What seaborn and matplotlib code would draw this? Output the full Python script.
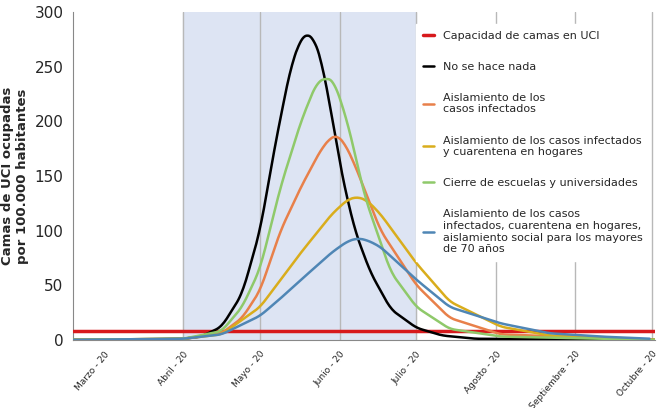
import numpy as np
import pandas as pd
import matplotlib
matplotlib.use("Agg")
import matplotlib.pyplot as plt
import seaborn as sns

# month ticks (days since 1 March 2020)
month_days = [0, 31, 61, 92, 122, 153, 184, 214]
month_labels = ["Marzo - 20", "Abril - 20", "Mayo - 20", "Junio - 20", "Julio - 20",
                "Agosto - 20", "Septiembre - 20", "Octubre - 20"]

capacity = 8

nada_day = [-12, 20, 31, 38, 46, 54, 61, 67, 73, 77, 79, 82, 85, 89, 93, 98, 104, 112, 122, 132, 145, 215]
nada_val = [0, 0.5, 1, 3, 12, 42, 100, 180, 250, 276, 280, 276, 255, 205, 150, 100, 62, 28, 11, 4, 1, 0]

green_day = [-12, 31, 46, 54, 61, 69, 77, 83, 87, 90, 95, 102, 112, 122, 135, 155, 215]
green_val = [0, 1, 8, 30, 65, 140, 200, 235, 240, 236, 200, 130, 62, 30, 10, 3, 0]

orange_day = [-12, 31, 46, 54, 61, 69, 77, 85, 89, 91, 94, 98, 108, 122, 135, 155, 215]
orange_val = [0, 1, 6, 20, 45, 100, 140, 175, 186, 187, 180, 160, 100, 50, 20, 5, 0]

yellow_day = [-12, 31, 46, 61, 69, 77, 89, 95, 99, 103, 108, 122, 135, 155, 174, 215]
yellow_val = [0, 1, 5, 30, 55, 80, 115, 128, 131, 127, 115, 70, 35, 12, 4, 0]

blue_day = [-12, 31, 46, 61, 69, 77, 89, 95, 99, 103, 108, 122, 135, 155, 174, 194, 213]
blue_val = [0, 1, 5, 22, 38, 55, 80, 90, 93, 91, 85, 55, 30, 15, 6, 3, 1]

series = [
    ("No se hace nada", nada_day, nada_val, "black"),
    ("Aislamiento de los\ncasos infectados", orange_day, orange_val, "#e8804a"),
    ("Aislamiento de los casos infectados\ny cuarentena en hogares", yellow_day, yellow_val, "#d9ad1c"),
    ("Cierre de escuelas y universidades", green_day, green_val, "#8fc96a"),
    ("Aislamiento de los casos\ninfectados, cuarentena en hogares,\naislamiento social para los mayores\nde 70 años", blue_day, blue_val, "#4f86b5"),
]


def smooth(dd, vv):
    # densify, then a light moving average to round the corners
    grid = np.arange(dd[0], dd[-1] + 0.5, 0.5)
    fine = np.interp(grid, dd, vv)
    k = 9
    pad = np.pad(fine, k // 2, mode="edge")
    return grid, np.convolve(pad, np.ones(k) / k, mode="valid")


sns.set_style("white")
fig = plt.figure(figsize=(6.64, 4.08), dpi=100)
ax = fig.add_axes([0.11, 0.167, 0.876, 0.804])

ax.axvspan(31, 122, color="#dde4f3", zorder=0)
for d in month_days[1:]:
    ax.axvline(d, color="#b8b8b8", lw=1, zorder=1)

ax.axhline(capacity, color="#d7191c", lw=2.5, label="Capacidad de camas en UCI", zorder=3)
for label, dd, vv, c in series:
    gx, gy = smooth(dd, vv)
    df = pd.DataFrame({"d": gx, "v": gy})
    sns.lineplot(data=df, x="d", y="v", color=c, lw=1.8, label=label, ax=ax, zorder=4)

ax.set_xlim(-12, 215)
ax.set_ylim(0, 300)
ax.set_yticks(range(0, 301, 50))
ax.set_yticklabels([str(v) for v in range(0, 301, 50)], fontsize=11)
ax.set_xticks(month_days)
ax.set_xticklabels(month_labels, rotation=50, ha="right", rotation_mode="anchor", fontsize=6.5)
ax.set_xlabel("")
ax.set_ylabel("Camas de UCI ocupadas\npor 100.000 habitantes", fontsize=9.5,
              fontweight="bold", labelpad=4)
for s in ["top", "right"]:
    ax.spines[s].set_visible(False)
for s in ["left", "bottom"]:
    ax.spines[s].set_color("#888888")

leg = ax.legend(loc="upper right", bbox_to_anchor=(1.0, 0.98), fontsize=8, frameon=True,
                fancybox=False, edgecolor="white", framealpha=1, labelspacing=1.9,
                handlelength=1.0, borderpad=0.6)
leg.set_zorder(10)

fig.savefig("out.png", dpi=100)
